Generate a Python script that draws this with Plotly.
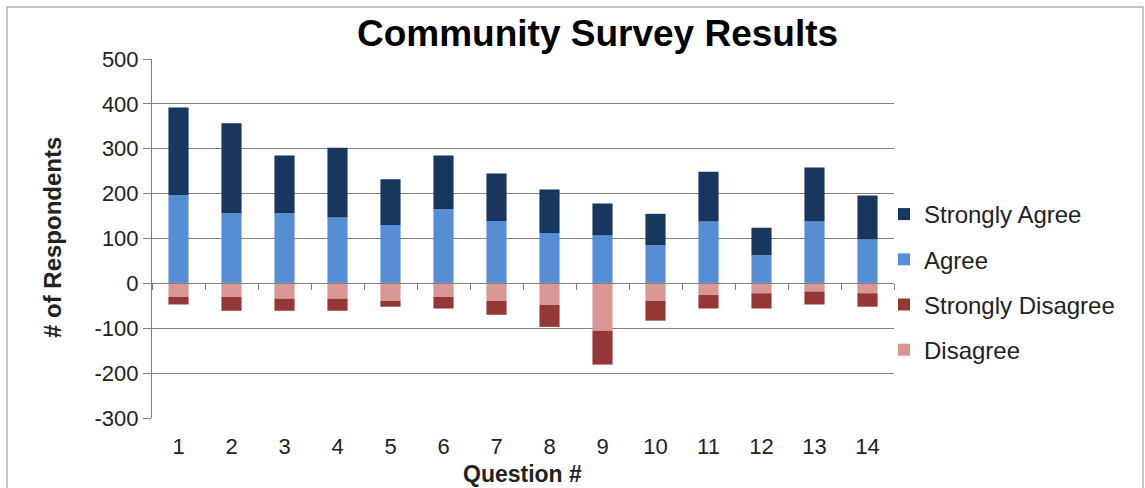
import plotly.graph_objects as go

questions = [str(i) for i in range(1, 15)]
agree = [197, 156, 156, 147, 130, 165, 139, 112, 107, 85, 138, 63, 138, 98]
strongly_agree = [195, 201, 129, 155, 102, 120, 106, 97, 71, 70, 111, 61, 120, 98]
disagree = [-30, -30, -34, -34, -39, -30, -39, -48, -106, -39, -26, -22, -18, -22]
strongly_disagree = [-17, -31, -27, -27, -13, -26, -31, -49, -75, -44, -30, -34, -29, -30]

y_ticks = [500, 400, 300, 200, 100, 0, -100, -200, -300]
y_tick_text = [str(v) for v in y_ticks]

W, H = 1145, 488
L, R, T, B = 152, 894, 59, 418
FONT = "Liberation Sans, Arial, sans-serif"

fig = go.Figure()
series = [
    ("Agree", agree, "#558ED5", 2),
    ("Strongly Agree", strongly_agree, "#17375E", 1),
    ("Disagree", disagree, "#D99694", 4),
    ("Strongly Disagree", strongly_disagree, "#953735", 3),
]
for name, vals, col, rank in series:
    fig.add_trace(go.Bar(
        x=questions, y=vals, name=name, marker=dict(color=col, line=dict(width=0)),
        legendrank=rank, legendgroup=name,
    ))

def px_x(p):
    return (p - L) / (R - L)

def px_y(p):
    return (B - p) / (B - T)

fig.update_layout(
    width=W, height=H,
    margin=dict(l=L, r=W - R, t=T, b=H - B),
    barmode="relative",
    bargap=0.62,
    plot_bgcolor="white", paper_bgcolor="white",
    font=dict(family=FONT, color="#222222", size=22),
    showlegend=True,
    legend=dict(
        x=px_x(884), y=px_y(192), xanchor="left", yanchor="top",
        font=dict(size=24, color="#222222"),
        traceorder="grouped", tracegroupgap=11,
        itemwidth=30, bgcolor="rgba(0,0,0,0)",
    ),
    xaxis=dict(
        type="category", showgrid=False, zeroline=False, showline=False,
        ticks="", tickfont=dict(size=22, color="#222222"),
        ticklabelstandoff=13,
    ),
    xaxis2=dict(
        overlaying="x", matches="x", anchor="free", position=0.375,
        type="category", showgrid=False, zeroline=False,
        showline=True, linecolor="#808080", linewidth=1,
        ticks="outside", ticklen=6, tickcolor="#808080", tickson="boundaries",
        showticklabels=False, side="bottom",
    ),
    yaxis=dict(
        range=[-300, 500], tickvals=y_ticks, ticktext=y_tick_text, showgrid=True,
        gridcolor="#808080", gridwidth=1, zeroline=False,
        showline=True, linecolor="#808080", linewidth=1,
        ticks="outside", ticklen=8, tickcolor="#808080",
        tickfont=dict(size=22, color="#222222"),
    ),
    annotations=[
        dict(text="<b>Community Survey Results</b>", xref="paper", yref="paper",
             x=px_x(597), y=px_y(34), xanchor="center", yanchor="middle",
             showarrow=False, font=dict(size=37, color="#000000")),
        dict(text="<b># of Respondents</b>", xref="paper", yref="paper",
             x=px_x(52), y=px_y(238), xanchor="center", yanchor="middle",
             textangle=-90, showarrow=False, font=dict(size=24, color="#222222")),
        dict(text="<b>Question #</b>", xref="paper", yref="paper",
             x=px_x(522), y=px_y(474), xanchor="center", yanchor="middle",
             showarrow=False, font=dict(size=23, color="#222222")),
    ],
    shapes=[
        dict(type="rect", xref="paper", yref="paper",
             x0=px_x(7), x1=px_x(1143), y0=px_y(500), y1=px_y(7),
             line=dict(color="#8a8a8a", width=1), fillcolor="rgba(0,0,0,0)", layer="below"),
    ],
)
# invisible trace to activate xaxis2
fig.add_trace(go.Bar(x=questions, y=[0] * len(questions), xaxis="x2",
                     showlegend=False, hoverinfo="skip", marker=dict(color="rgba(0,0,0,0)")))

fig.write_html("out.html")
